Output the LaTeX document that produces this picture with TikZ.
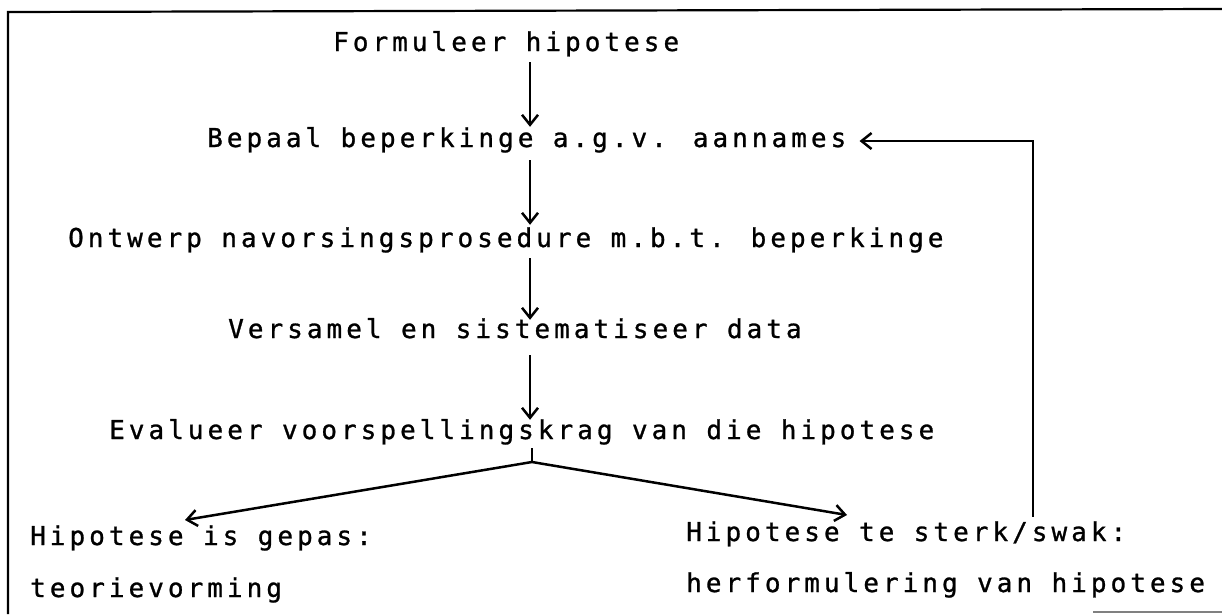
\documentclass[tikz,border=0pt]{standalone}
\usepackage{fontspec}
\newfontfamily\typewr[LetterSpace=15.5,FakeBold=1]{DejaVu Sans Mono}
\newcommand\twfont{\typewr\fontsize{26}{30}\selectfont\spaceskip=19.4pt plus 0pt minus 0pt\relax}
\usetikzlibrary{arrows.meta}
\begin{document}
\begin{tikzpicture}[x=1pt,y=-1pt,
  lbl/.style={anchor=base west,inner sep=0pt,text height=18pt,text depth=6pt,
    font=\twfont},
  arr/.style={-{Straight Barb[length=10pt,width=16pt,line width=2.5pt]},line width=2.5pt},
  ln/.style={line width=2.5pt}]
\useasboundingbox (0,0) rectangle (1222,614);
\draw[line width=2.2pt] (8,614) -- (8,12) -- (1222,9);
\draw[line width=1.2pt,gray] (1093,612) -- (1222,612);
\node[lbl] (n1) at (333,51) {Formuleer hipotese};
\node[lbl] (n2) at (207,147) {Bepaal beperkinge a.g.v. aannames};
\node[lbl] (n3) at (68,247) {Ontwerp navorsingsprosedure m.b.t. beperkinge};
\node[lbl] (n4) at (228,338) {Versamel en sistematiseer data};
\node[lbl] (n5) at (109,439) {Evalueer voorspellingskrag van die hipotese};
\node[lbl] (L1) at (30,545) {Hipotese is gepas:};
\node[lbl] (L2) at (30,597) {teorievorming};
\node[lbl] (R1) at (686,541) {Hipotese te sterk/swak:};
\node[lbl] (R2) at (686,592) {herformulering van hipotese};
\coordinate (ax) at (530,0);
\draw[arr,shorten <=5pt,shorten >=2pt] (n1.south -| ax) -- (n2.north -| ax);
\draw[arr,shorten <=7pt,shorten >=4pt] (n2.south -| ax) -- (n3.north -| ax);
\draw[arr,shorten <=5pt,shorten >=0pt] (n3.south -| ax) -- (n4.north -| ax);
\draw[arr,shorten <=11pt,shorten >=1pt] (n4.south -| ax) -- (n5.north -| ax);
\coordinate (f) at (532,462);
\draw[ln] (n5.south -| f) ++(0,3) -- (f);
\draw[arr] (f) -- ([shift={(155,-25)}]L1.base west);
\draw[arr] (f) -- ([shift={(161,-26)}]R1.base west);
\coordinate (fb) at (1033,0);
\draw[arr,shorten <=6pt] (R1.north -| fb) |- ([xshift=13pt]n2.east);
\end{tikzpicture}
\end{document}
